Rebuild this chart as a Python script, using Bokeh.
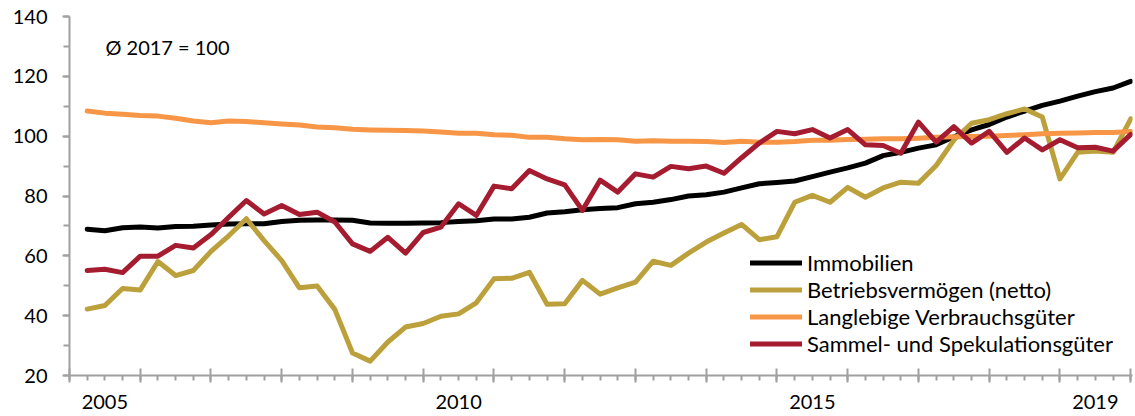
from bokeh.plotting import figure
from bokeh.models import (FixedTicker, LinearAxis, Label, Legend, LegendItem,
                          Range1d, ColumnDataSource, CustomLabelingPolicy)
from bokeh.embed import file_html
from bokeh.resources import INLINE

# ---- data: quarterly index values, Ø 2017 = 100 (2005Q1 .. 2019Q4) ----
years = list(range(2005, 2020))
quarters = [f"{y}Q{q}" for y in years for q in range(1, 5)]

immobilien = [
    68.9, 68.4, 69.4, 69.6, 69.3, 69.8, 69.9, 70.3, 70.6, 70.7,
    70.7, 71.5, 71.9, 72.0, 72.0, 71.9, 71.0, 70.9, 70.9, 71.0,
    71.1, 71.5, 71.7, 72.3, 72.3, 72.9, 74.3, 74.7, 75.4, 75.8,
    76.1, 77.4, 77.9, 78.8, 80.0, 80.4, 81.3, 82.7, 84.1, 84.5,
    85.0, 86.5, 88.0, 89.4, 91.0, 93.5, 94.6, 96.0, 97.1, 99.8,
    102.1, 103.9, 106.4, 108.4, 110.3, 111.7, 113.4, 114.9, 116.1, 118.3,
]
betriebsvermoegen = [
    42.2, 43.4, 49.1, 48.6, 58.1, 53.4, 55.1, 61.5, 66.7, 72.4,
    65.1, 58.4, 49.3, 49.9, 42.1, 27.5, 24.8, 31.2, 36.2, 37.4,
    39.8, 40.6, 44.3, 52.3, 52.5, 54.5, 43.8, 44.0, 51.8, 47.2,
    49.3, 51.2, 58.2, 56.8, 60.9, 64.6, 67.6, 70.5, 65.4, 66.4,
    77.9, 80.2, 77.9, 82.9, 79.6, 82.7, 84.6, 84.3, 90.2, 98.7,
    104.3, 105.5, 107.5, 109.1, 106.4, 85.7, 94.6, 95.0, 94.6, 105.8,
]
verbrauchsgueter = [
    108.4, 107.7, 107.3, 106.9, 106.7, 106.0, 105.1, 104.5, 105.1, 104.9,
    104.5, 104.1, 103.7, 103.1, 102.8, 102.3, 102.1, 102.0, 101.9, 101.7,
    101.4, 101.0, 101.0, 100.5, 100.3, 99.6, 99.6, 99.1, 98.8, 98.9,
    98.8, 98.3, 98.5, 98.3, 98.3, 98.2, 97.9, 98.3, 98.0, 98.0,
    98.2, 98.6, 98.6, 98.9, 99.0, 99.1, 99.1, 99.3, 99.6, 99.8,
    99.9, 100.0, 100.2, 100.5, 100.8, 101.0, 101.1, 101.2, 101.2, 101.6,
]
sammelgueter = [
    55.1, 55.5, 54.4, 59.9, 59.9, 63.5, 62.6, 67.1, 72.9, 78.5,
    74.0, 76.8, 73.8, 74.6, 71.3, 64.0, 61.5, 66.2, 60.9, 67.8,
    69.6, 77.4, 73.5, 83.3, 82.4, 88.5, 85.7, 83.7, 75.2, 85.3,
    81.3, 87.4, 86.3, 89.9, 89.1, 90.0, 87.6, 92.8, 97.7, 101.6,
    100.8, 102.2, 99.4, 102.2, 97.1, 96.9, 94.3, 104.7, 98.0, 103.2,
    97.7, 101.6, 94.6, 99.4, 95.4, 98.8, 96.1, 96.3, 95.0, 100.6,
]

series_names = ["Immobilien", "Betriebsvermögen (netto)",
                "Langlebige Verbrauchsgüter", "Sammel- und Spekulationsgüter"]
series_values = [immobilien, betriebsvermoegen, verbrauchsgueter, sammelgueter]
series_colors = ["#000000", "#BBA03C", "#F79646", "#A51C30"]

year_labels = {"2005": 2005, "2010": 2010, "2015": 2015, "2019": 2019}
note_text = "Ø 2017 = 100"

# quarter position: quarter n of the year sits at the end of that quarter
xpos = [(int(q[:4]) - years[0]) * 4 + int(q[-1]) for q in quarters]

FONT = "Lato"
AXIS_GREY = "#A0A0A0"

p = figure(width=1135, height=416, output_backend="svg", toolbar_location=None,
           x_range=Range1d(0, len(quarters) + 0.1), y_range=Range1d(20, 140),
           min_border_left=69, min_border_right=3, min_border_top=16,
           min_border_bottom=41)
p.outline_line_color = None
p.grid.visible = False
p.background_fill_color = "white"
p.border_fill_color = "white"

renderers = []
for name, vals, col in zip(series_names, series_values, series_colors):
    src = ColumnDataSource(dict(x=xpos, y=vals))
    r = p.line("x", "y", source=src, line_color=col, line_width=5,
               line_join="round", line_cap="round")
    renderers.append((name, r))

# y axis
ya = p.yaxis[0]
ya.ticker = FixedTicker(ticks=list(range(20, 141, 20)),
                        minor_ticks=list(range(20, 141, 10)))
ya.axis_line_color = AXIS_GREY
ya.axis_line_width = 2
ya.major_tick_line_color = AXIS_GREY
ya.major_tick_line_width = 2
ya.minor_tick_line_color = AXIS_GREY
ya.minor_tick_line_width = 2
ya.major_tick_in = 0
ya.major_tick_out = 7
ya.minor_tick_in = 0
ya.minor_tick_out = 6
ya.major_label_text_font = FONT
ya.major_label_text_font_size = "20px"
ya.major_label_text_color = "#000000"
ya.major_label_standoff = 15

# x axis (tick marks only, no labels)
n = len(quarters)
xa = p.xaxis[0]
xa.ticker = FixedTicker(ticks=list(range(0, n + 1, 4)),
                        minor_ticks=list(range(0, n + 1)))
xa.axis_line_color = AXIS_GREY
xa.axis_line_width = 2
xa.major_tick_line_color = AXIS_GREY
xa.major_tick_line_width = 2
xa.minor_tick_line_color = AXIS_GREY
xa.minor_tick_line_width = 2
xa.major_tick_in = 7
xa.major_tick_out = 7
xa.minor_tick_in = 0
xa.minor_tick_out = 5
xa.major_label_text_font_size = "0px"
xa.major_label_standoff = 0
xa.major_label_policy = CustomLabelingPolicy(
    code="return new indices.constructor(indices.size)")

# x axis labels, centred on each labelled year
label_pos = [(y - years[0]) * 4 + 2 for y in year_labels.values()]
xl = LinearAxis(ticker=FixedTicker(ticks=label_pos, minor_ticks=[]),
                major_label_overrides={pos: lab for pos, lab in zip(label_pos, year_labels.keys())})
xl.axis_line_color = None
xl.major_tick_line_color = None
xl.minor_tick_line_color = None
xl.major_tick_in = 0
xl.major_tick_out = 0
xl.major_label_text_font = FONT
xl.major_label_text_font_size = "20px"
xl.major_label_text_color = "#000000"
xl.major_label_standoff = 12
p.add_layout(xl, "below")

legend = Legend(items=[LegendItem(label=nm, renderers=[r]) for nm, r in renderers],
                location=(681, 18), orientation="vertical")
legend.label_text_font = FONT
legend.label_text_font_size = "22px"
legend.label_text_color = "#000000"
legend.glyph_width = 52
legend.glyph_height = 25
legend.label_height = 25
legend.label_standoff = 5
legend.spacing = 0
legend.padding = 0
legend.margin = 0
legend.border_line_color = None
legend.background_fill_alpha = 0
p.add_layout(legend, "center")

p.add_layout(Label(x=2.03, y=129.7, text=note_text, text_font=FONT,
                   text_font_size="20px", text_color="#000000",
                   text_baseline="middle", text_align="left"))

open("out.html", "w").write(file_html(p, INLINE))
